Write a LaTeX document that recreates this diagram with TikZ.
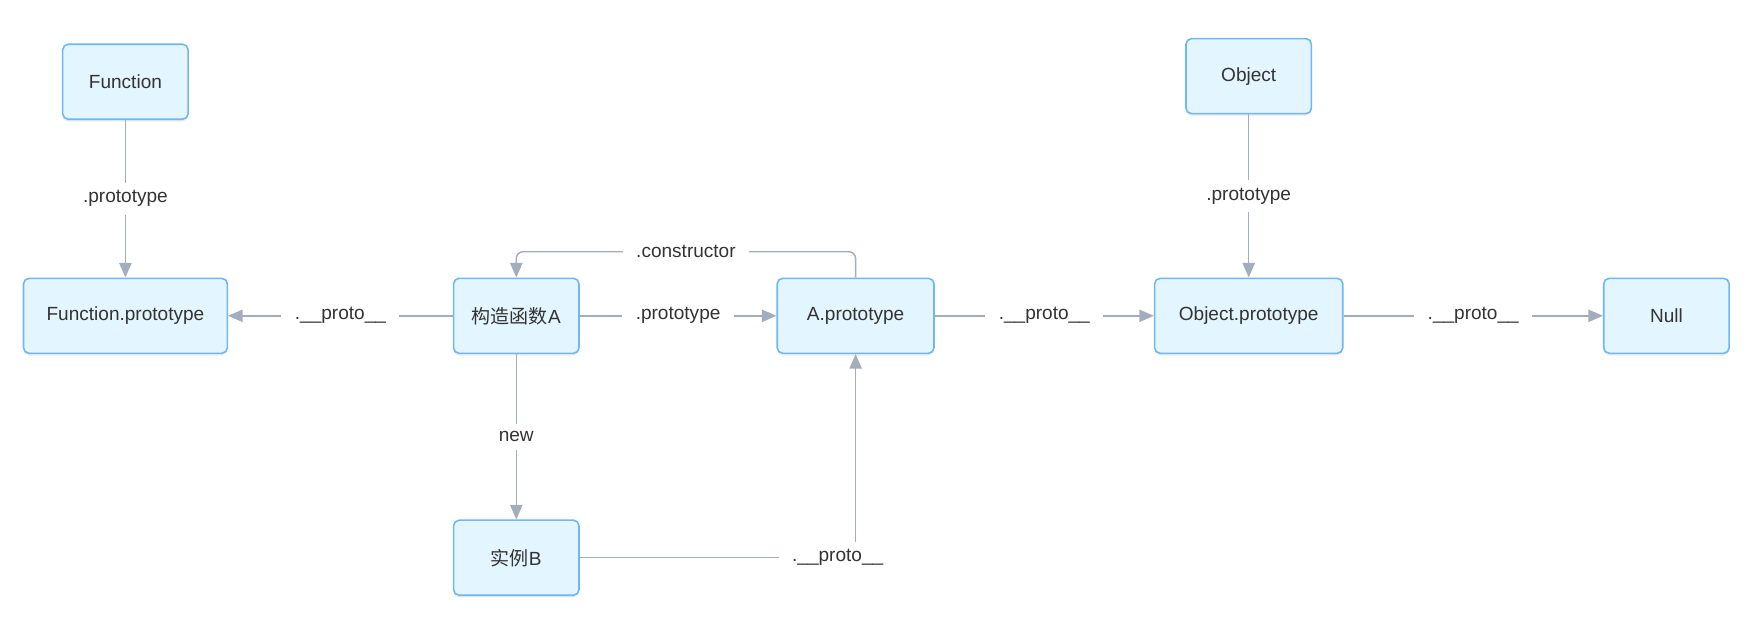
\documentclass[tikz,border=0pt]{standalone}
\usepackage{fontspec}
\setmainfont{Liberation Sans}
\newfontfamily\cjk{Noto Sans CJK SC}
\usetikzlibrary{arrows.meta,shadows}
\definecolor{boxfill}{HTML}{E3F5FE}
\definecolor{boxline}{HTML}{6DB8F4}
\definecolor{linkgray}{HTML}{A2AEBD}
\definecolor{textgray}{HTML}{333333}
\begin{document}
\begin{tikzpicture}[x=1pt,y=1pt,
  box/.style={draw=boxline, fill=boxfill, line width=1.4pt, rounded corners=5pt,
    minimum width=112pt, minimum height=67pt, text=textgray,
    font=\fontsize{17}{20}\selectfont,
    drop shadow={shadow xshift=0pt, shadow yshift=-2pt, opacity=0.07, fill=black}},
  link/.style={draw=linkgray, line width=1.3pt, -{Triangle[length=13pt,width=11pt]}},
  lbl/.style={fill=white, text=textgray, font=\fontsize{17}{20}\selectfont,
    inner xsep=12pt, inner ysep=7pt}]
\useasboundingbox (0,0) rectangle (1568,-569);
\node[box] (fn) at (112,-73) {Function};
\node[box, minimum width=182pt] (fnproto) at (112,-282) {Function.prototype};
\node[box] (ctor) at (461,-282) {{\cjk 构造函数}A};
\node[box, minimum width=140pt] (aproto) at (764,-282) {A.prototype};
\node[box, minimum width=168pt] (objproto) at (1115,-282) {Object.prototype};
\node[box] (null) at (1488,-282) {Null};
\node[box] (obj) at (1115,-68) {Object};
\node[box] (inst) at (461,-498) {{\cjk 实例}B};
\path[link] (fn) -- node[lbl] {.prototype} (fnproto);
\path[link] (ctor) -- node[lbl] {.\_\_proto\_\_} (fnproto);
\path[link] (ctor) -- node[lbl] {.prototype} (aproto);
\path[link] (aproto) -- node[lbl] {.\_\_proto\_\_} (objproto);
\path[link] (objproto) -- node[lbl] {.\_\_proto\_\_} (null);
\path[link] (obj) -- node[lbl] {.prototype} (objproto);
\path[link] (ctor) -- node[lbl] {new} (inst);
\path[link, rounded corners=6pt] (aproto.north) -- ++(0,23) -| node[lbl, pos=0.25] {.constructor} (ctor.north);
\path[link] (inst.east) -| node[lbl, pos=0.5, xshift=-16pt] {.\_\_proto\_\_} (aproto.south);
\end{tikzpicture}
\end{document}
